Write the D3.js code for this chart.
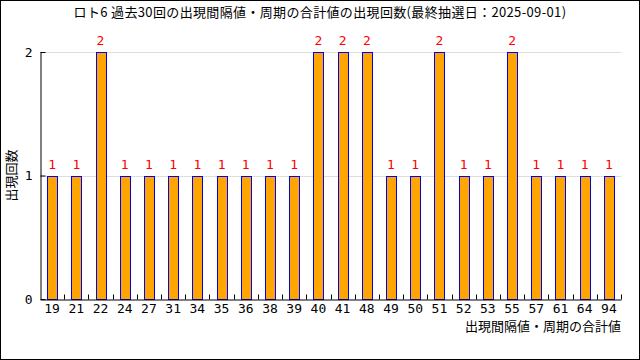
<!DOCTYPE html>
<html>
<head>
  <meta charset="utf-8">
  <title>ロト6 出現間隔値・周期の合計値</title>
  <style>
    body { margin: 0; background: #fff; }
    svg { display: block; }
    text { font-family: "Noto Sans CJK JP", "DejaVu Sans", sans-serif; }
  </style>
</head>
<body>
  <svg id="canvas"></svg>
  <script src="https://d3js.org/d3.v7.min.js"></script>
  <script>
    const categories = ["19", "21", "22", "24", "27", "31", "34", "35", "36", "38", "39", "40",
                        "41", "48", "49", "50", "51", "52", "53", "55", "57", "61", "64", "94"];
    const counts = [1, 1, 2, 1, 1, 1, 1, 1, 1, 1, 1, 2, 2, 2, 1, 1, 2, 1, 1, 2, 1, 1, 1, 1];
    const yTicks = [0, 1, 2];
    const title = "ロト6 過去30回の出現間隔値・周期の合計値の出現回数(最終抽選日：2025-09-01)";
    const xTitle = "出現間隔値・周期の合計値";
    const yTitle = "出現回数";

    const W = 640, H = 360;
    const m = { top: 52, right: 19, bottom: 61, left: 40 };
    const fs = 13;
    const numFont = "'DejaVu Sans Mono', monospace";
    const svg = d3.select("#canvas").attr("width", W).attr("height", H);

    svg.append("rect")
      .attr("x", 0.5).attr("y", 0.5)
      .attr("width", W - 1).attr("height", H - 1)
      .attr("fill", "#fff").attr("stroke", "#000");

    const x = d3.scaleBand().domain(categories).range([m.left, W - m.right]);
    const y = d3.scaleLinear().domain([0, 2]).range([H - m.bottom, m.top]);
    const data = categories.map((c, i) => ({ c: c, v: counts[i] }));
    const bw = 10;

    // gridlines
    svg.append("g").selectAll("line")
      .data(yTicks.filter(t => t > 0))
      .enter().append("line")
      .attr("x1", m.left).attr("x2", W - m.right)
      .attr("y1", d => Math.round(y(d)) + 0.5).attr("y2", d => Math.round(y(d)) + 0.5)
      .attr("stroke", "#dddddd");

    // bars
    svg.append("g").selectAll("rect")
      .data(data)
      .enter().append("rect")
      .attr("x", d => Math.round(x(d.c) + x.bandwidth() / 2 - bw / 2) + 0.5)
      .attr("y", d => Math.round(y(d.v)) + 0.5)
      .attr("width", bw)
      .attr("height", d => Math.round(y(0)) - Math.round(y(d.v)))
      .attr("fill", "orange")
      .attr("stroke", "blue");

    // value labels
    svg.append("g").selectAll("text")
      .data(data)
      .enter().append("text")
      .attr("x", d => x(d.c) + x.bandwidth() / 2)
      .attr("y", d => y(d.v) - 7)
      .attr("text-anchor", "middle")
      .attr("font-size", fs)
      .style("font-family", numFont)
      .attr("fill", "red")
      .text(d => d.v);

    // x axis
    const xAxis = svg.append("g")
      .attr("transform", "translate(0," + (Math.round(y(0)) + 0.5) + ")")
      .call(d3.axisBottom(x).tickSize(0).tickPadding(4));
    xAxis.select(".domain").attr("stroke", "#000");
    xAxis.selectAll("text").attr("font-size", fs).attr("fill", "#000")
      .style("font-family", numFont);
    xAxis.selectAll(".boundary")
      .data(d3.range(1, categories.length + 1))
      .enter().append("line")
      .attr("class", "boundary")
      .attr("x1", i => Math.round(m.left + i * x.step()) + 0.5)
      .attr("x2", i => Math.round(m.left + i * x.step()) + 0.5)
      .attr("y1", 0).attr("y2", -5)
      .attr("stroke", "#000");

    // y axis
    const yAxis = svg.append("g")
      .attr("transform", "translate(" + (m.left + 0.5) + ",0)")
      .call(d3.axisLeft(y).tickValues(yTicks).tickFormat(d3.format("d"))
        .tickSizeInner(-5).tickSizeOuter(0).tickPadding(8));
    yAxis.selectAll("text").attr("font-size", fs).attr("fill", "#000")
      .style("font-family", numFont);

    // titles
    svg.append("text")
      .attr("x", 320).attr("y", 17)
      .attr("text-anchor", "middle")
      .attr("font-size", fs)
      .attr("letter-spacing", 0.35)
      .text(title);

    svg.append("text")
      .attr("x", W - m.right).attr("y", 331)
      .attr("text-anchor", "end")
      .attr("font-size", fs)
      .text(xTitle);

    svg.append("text")
      .attr("transform", "translate(16," + y(1) + ") rotate(-90)")
      .attr("text-anchor", "middle")
      .attr("font-size", fs)
      .text(yTitle);
  </script>
</body>
</html>
